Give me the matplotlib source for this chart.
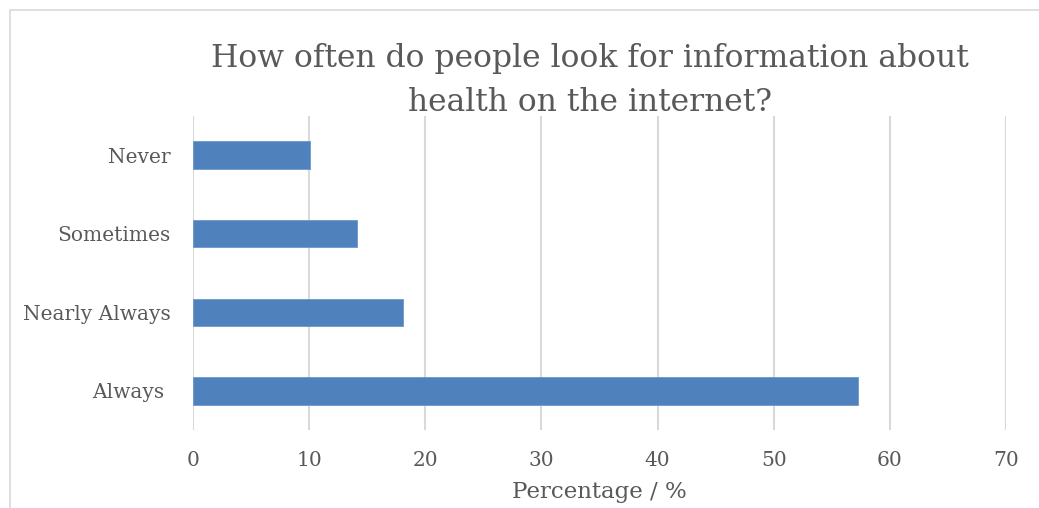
import matplotlib
matplotlib.use("Agg")
import matplotlib.pyplot as plt
from matplotlib.patches import Rectangle

# survey answers, bottom to top
categories = ["Always ", "Nearly Always", "Sometimes", "Never"]
percentages = [57.3, 18.1, 14.1, 10.1]
x_ticks = [0, 10, 20, 30, 40, 50, 60, 70]

bar_color = "#4F81BD"
text_color = "#595959"
grid_color = "#D9D9D9"

plt.rcParams["font.family"] = ["DejaVu Serif"]

fig = plt.figure(figsize=(10.39, 5.08), dpi=100)
ax = fig.add_axes([0.1858, 0.1535, 0.7824, 0.6182])

# chart frame (only top and left edges fall inside the canvas)
fig.patches.append(Rectangle((10 / 1039, -0.1), 1.2, 1 - 10 / 508 + 0.1,
                             transform=fig.transFigure, fill=False,
                             edgecolor="#D9D9D9", linewidth=1.2))

ax.barh(range(len(categories)), percentages, height=0.35, color=bar_color,
        edgecolor="#6F97C9", linewidth=0.6, zorder=3)

ax.set_xlim(0, 70)
ax.set_ylim(-0.5, len(categories) - 0.5)
ax.set_xticks(x_ticks)
ax.set_yticks(range(len(categories)))
ax.set_yticklabels(categories)
ax.grid(axis="x", color=grid_color, linewidth=1.5, zorder=0)
for s in ax.spines.values():
    s.set_visible(False)
ax.tick_params(length=0, labelsize=14.5, colors=text_color)
ax.tick_params(axis="x", pad=15)
ax.tick_params(axis="y", pad=16)

ax.set_xlabel("Percentage / %", fontsize=16.5, color=text_color, va="baseline")
ax.xaxis.set_label_coords(0.5, -0.2166)

fig.suptitle("How often do people look for information about\nhealth on the internet?",
             x=0.568, y=0.915, va="top", fontsize=22.6, color=text_color,
             linespacing=1.52)

fig.savefig("out.png", dpi=100)
